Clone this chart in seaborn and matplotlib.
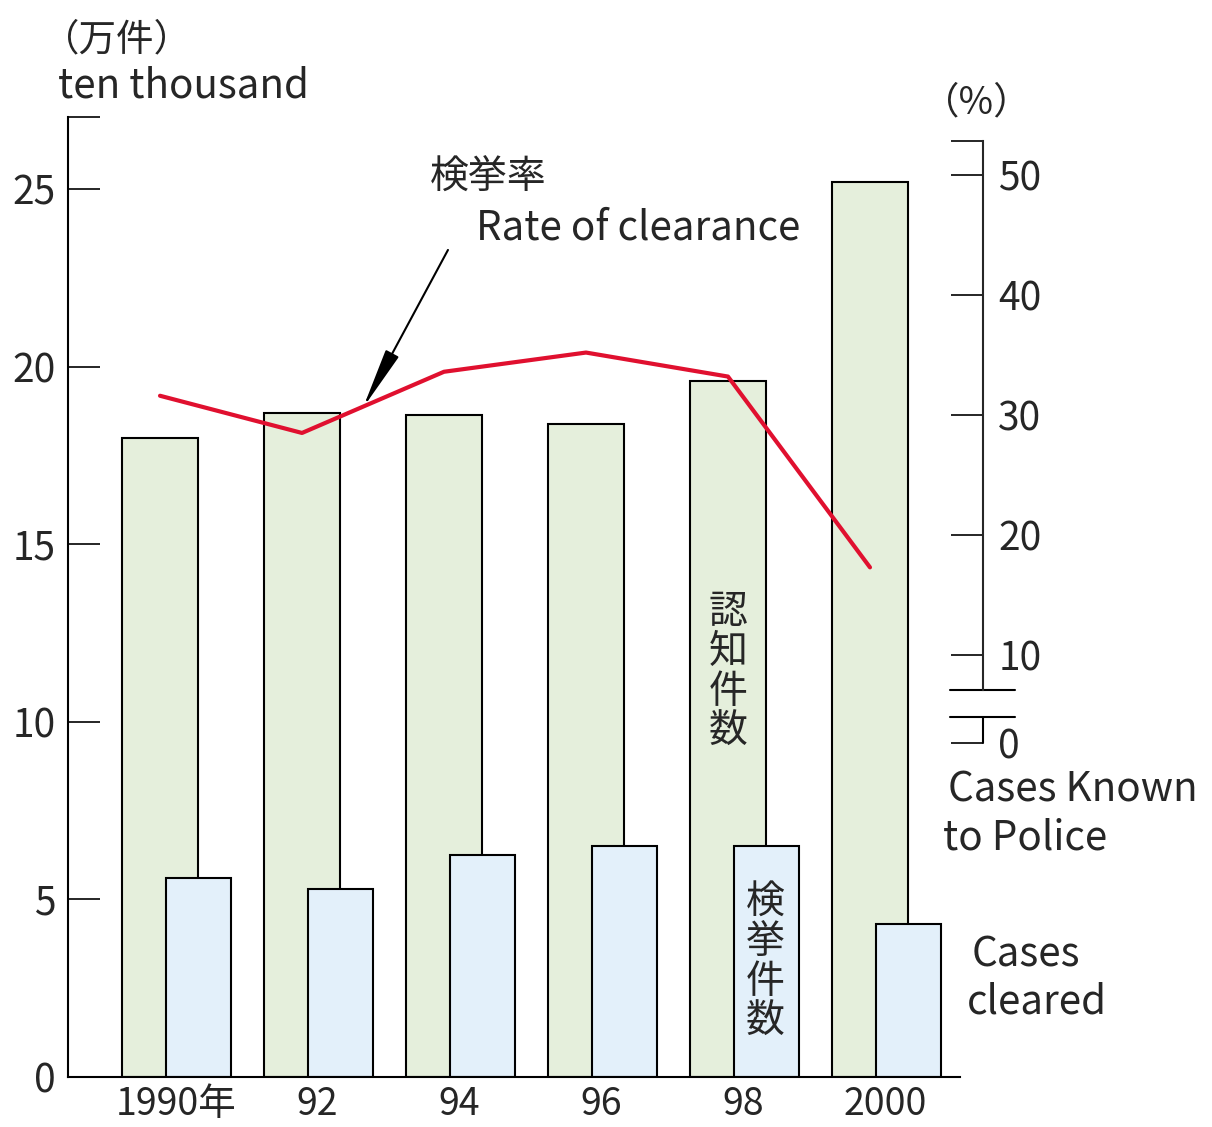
import numpy as np
import matplotlib
matplotlib.use("Agg")
import matplotlib.pyplot as plt
import seaborn as sns

# data
years = ["1990年", "92", "94", "96", "98", "2000"]
known = [18.0, 18.7, 18.65, 18.4, 19.6, 25.2]      # 認知件数 (ten thousand)
cleared = [5.6, 5.3, 6.25, 6.5, 6.5, 4.3]          # 検挙件数 (ten thousand)
rate = [31.6, 28.5, 33.6, 35.2, 33.2, 17.3]        # 検挙率 (%)
left_ticks = [0, 5, 10, 15, 20, 25]
right_ticks = [10, 20, 30, 40, 50]

sns.set_style("white")
plt.rcParams['font.family'] = ['Noto Sans CJK JP', 'DejaVu Sans']

W, H = 1212, 1127
fig = plt.figure(figsize=(W / 100, H / 100), dpi=100)


def fx(px):
    return px / W


def fy(py):
    return 1 - py / H


ax = fig.add_axes([fx(68), fy(1077), (960 - 68) / W, (1077 - 117) / H])
pos = np.arange(len(years))

green = "#e5efdc"
blue = "#e3f0fa"
red = "#e0102f"

sns.barplot(x=pos, y=known, native_scale=True, width=0.535, color=green,
            saturation=1, edgecolor="black", linewidth=1.5, ax=ax)
sns.barplot(x=pos + 0.271, y=cleared, native_scale=True, width=0.458, color=blue,
            saturation=1, edgecolor="black", linewidth=1.5, ax=ax)

ymax = 27.03
ax.set_xlim(-0.648, 5.634)
ax.set_ylim(0, ymax)
ax.set_xticks(pos + 0.11)
ax.set_xticklabels(years, fontsize=27)
ax.set_yticks(left_ticks + [ymax])
ax.set_yticklabels([str(t) for t in left_ticks] + [""], fontsize=28)
ax.tick_params(axis="y", direction="in", length=23, width=1.4, pad=9)
ax.tick_params(axis="x", length=0, pad=6)
ax.set_xlabel("")
ax.set_ylabel("")
for s in ["top", "right"]:
    ax.spines[s].set_visible(False)
for s in ["left", "bottom"]:
    ax.spines[s].set_linewidth(1.5)
    ax.spines[s].set_color("black")

# rate of clearance on broken right scale
ax2 = ax.twinx()
sns.lineplot(x=pos, y=rate, color=red, linewidth=3, ax=ax2)
ax2.set_ylim(-25.17, 54.83)
ax2.set_ylabel("")
for s in ["top", "left", "bottom"]:
    ax2.spines[s].set_visible(False)
spx = (983 - 68) / (960 - 68)
ax2.spines["right"].set_position(("axes", spx))
ax2.spines["right"].set_bounds(7.08, 52.83)
ax2.spines["right"].set_linewidth(1.5)
ax2.set_yticks([2.67] + right_ticks + [52.83])
ax2.set_yticklabels(["0"] + [str(t) for t in right_ticks] + [""], fontsize=28)
ax2.tick_params(axis="y", direction="in", length=23, width=1.4, pad=11)

tr = ax2.get_yaxis_transform()
x0, x1 = (950 - 68) / 892, (1015 - 68) / 892
for yb in [7.08, 4.83]:
    ax2.plot([x0, x1], [yb, yb], color="black", lw=1.5, transform=tr, clip_on=False)
ax2.plot([spx, spx], [4.83, 2.67], color="black", lw=1.5, transform=tr, clip_on=False)

# arrow pointing at the rate line
ax2.annotate("", xy=(1.43, 30.6), xytext=(2.028, 43.75),
             arrowprops=dict(arrowstyle="-|>,head_width=0.18,head_length=1.5",
                             color="black", lw=1.5, mutation_scale=25,
                             shrinkA=0, shrinkB=0))

fig.text(fx(42), fy(40), "（万件）", fontsize=27, va="center", ha="left")
fig.text(fx(58), fy(86), "ten thousand", fontsize=29, va="center", ha="left")
fig.text(fx(922), fy(103), "（%）", fontsize=27, va="center", ha="left")
fig.text(fx(430), fy(178), "検挙率", fontsize=28, va="center", ha="left")
fig.text(fx(476), fy(228), "Rate of clearance", fontsize=29, va="center", ha="left")
fig.text(fx(728), fy(672), "認\n知\n件\n数", fontsize=28, va="center", ha="center",
         linespacing=1.0)
fig.text(fx(765), fy(962), "検\n挙\n件\n数", fontsize=28, va="center", ha="center",
         linespacing=1.0)
fig.text(fx(948), fy(790), "Cases Known", fontsize=29, va="center", ha="left")
fig.text(fx(943), fy(838), "to Police", fontsize=29, va="center", ha="left")
fig.text(fx(972), fy(955), "Cases", fontsize=29, va="center", ha="left")
fig.text(fx(967), fy(1002), "cleared", fontsize=29, va="center", ha="left")

fig.savefig("out.png", dpi=100)
